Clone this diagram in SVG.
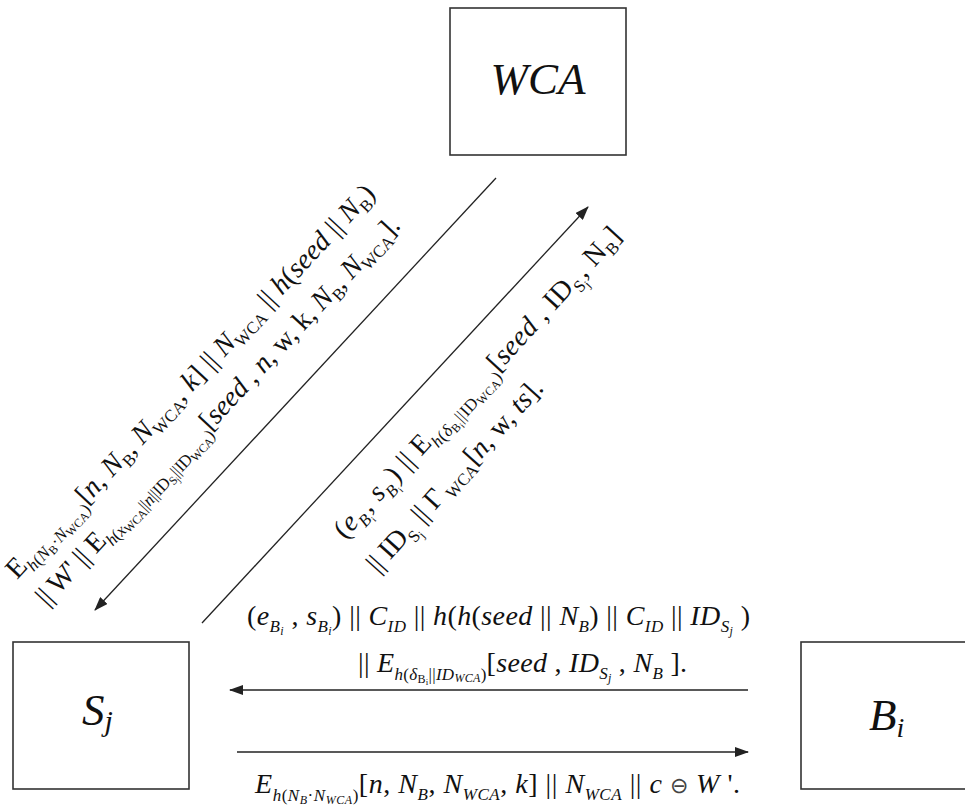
<svg xmlns="http://www.w3.org/2000/svg" width="965" height="811" viewBox="0 0 965 811">
<defs>
<style>
.box{fill:#fff;stroke:#333;stroke-width:1.6}
.conn{stroke:#222;stroke-width:1.3;fill:none}
.t{font-size:28px;fill:#111}
.big{font-size:45px;font-style:italic;fill:#111}
.i{font-style:italic}
.s{font-size:17px}
.ss{font-size:12px}
.sss{font-size:9px}
</style>
<marker id="ah" markerWidth="14" markerHeight="10" refX="13" refY="5" orient="auto" markerUnits="userSpaceOnUse">
<path d="M0,0 L14,5 L0,10 z" fill="#222"/>
</marker>
</defs>
<rect width="965" height="811" fill="#fff"/>

<g id="node-wca">
<rect class="box" x="450" y="8" width="176" height="147"/>
<text class="big" font-family="'Liberation Serif', serif" x="538" y="94" text-anchor="middle">WCA</text>
</g>
<g id="node-sj">
<rect class="box" x="13" y="642" width="176" height="147"/>
<text class="big" font-family="'Liberation Serif', serif" x="82" y="725">S<tspan dy="6" font-size="30">j</tspan></text>
</g>
<g id="node-bi">
<rect class="box" x="801" y="642" width="200" height="147"/>
<text class="big" font-family="'Liberation Serif', serif" x="869" y="730">B<tspan dy="7" font-size="28">i</tspan></text>
</g>

<g id="connectors">
<line class="conn" x1="496" y1="178" x2="95" y2="610" marker-end="url(#ah)"/>
<line class="conn" x1="202" y1="623" x2="588" y2="207" marker-end="url(#ah)"/>
<line class="conn" x1="748" y1="690" x2="230" y2="690" marker-end="url(#ah)"/>
<line class="conn" x1="237" y1="752" x2="748" y2="752" marker-end="url(#ah)"/>
</g>

<g id="labels" font-family="'Liberation Serif', serif">
<text class="t" transform="translate(17,580) rotate(-47)" textLength="527" lengthAdjust="spacing">E<tspan class="s i" dy="7">h</tspan><tspan class="s">(</tspan><tspan class="s i">N</tspan><tspan class="ss" dy="3">B</tspan><tspan class="s" dy="-3">·</tspan><tspan class="s i">N</tspan><tspan class="ss" dy="3">WCA</tspan><tspan class="s" dy="-3">)</tspan><tspan dy="-7">[</tspan><tspan class="i">n</tspan><tspan>, </tspan><tspan class="i">N</tspan><tspan class="s" dy="6">B</tspan><tspan dy="-6">, </tspan><tspan class="i">N</tspan><tspan class="s" dy="6">WCA</tspan><tspan dy="-6">, </tspan><tspan class="i">k</tspan><tspan>] || </tspan><tspan class="i">N</tspan><tspan class="s" dy="6">WCA</tspan><tspan dy="-6"> || </tspan><tspan class="i">h</tspan><tspan>(</tspan><tspan class="i">seed</tspan><tspan> || </tspan><tspan class="i">N</tspan><tspan class="s" dy="6">B</tspan><tspan dy="-6">)</tspan></text>

<text class="t" transform="translate(47,607) rotate(-47)" textLength="520" lengthAdjust="spacing">|| W' || E<tspan class="s i" dy="7">h</tspan><tspan class="s">(</tspan><tspan class="s i">x</tspan><tspan class="ss" dy="3">WCA</tspan><tspan class="s" dy="-3">||</tspan><tspan class="s i">n</tspan><tspan class="s">||ID</tspan><tspan class="ss" dy="3">S</tspan><tspan class="sss" dy="2">j</tspan><tspan class="s" dy="-5">||ID</tspan><tspan class="ss" dy="3">WCA</tspan><tspan class="s" dy="-3">)</tspan><tspan dy="-7">[</tspan><tspan class="i">seed</tspan><tspan> , </tspan><tspan class="i">n</tspan><tspan>, w, k, </tspan><tspan class="i">N</tspan><tspan class="s" dy="6">B</tspan><tspan dy="-6">, </tspan><tspan class="i">N</tspan><tspan class="s" dy="6">WCA</tspan><tspan dy="-6">].</tspan></text>

<text class="t" transform="translate(345,540) rotate(-47.5)" textLength="411" lengthAdjust="spacing">(<tspan class="i">e</tspan><tspan class="s i" dy="7">B</tspan><tspan class="sss" dy="3">i</tspan><tspan dy="-10">, </tspan><tspan class="i">s</tspan><tspan class="s i" dy="7">B</tspan><tspan class="sss" dy="3">i</tspan><tspan dy="-10">) || E</tspan><tspan class="s i" dy="7">h</tspan><tspan class="s">(</tspan><tspan class="s i">δ</tspan><tspan class="ss" dy="3">B</tspan><tspan class="sss" dy="2">i</tspan><tspan class="s" dy="-5">||ID</tspan><tspan class="ss" dy="3">WCA</tspan><tspan class="s" dy="-3">)</tspan><tspan dy="-7">[</tspan><tspan class="i">seed</tspan><tspan> , ID</tspan><tspan class="s" dy="7">S</tspan><tspan class="ss" dy="3">j</tspan><tspan dy="-10">, N</tspan><tspan class="s" dy="6">B</tspan><tspan dy="-6">]</tspan></text>

<text class="t" transform="translate(378,574) rotate(-48)" textLength="249" lengthAdjust="spacing">|| ID<tspan class="s" dy="7">S</tspan><tspan class="ss" dy="3">j</tspan><tspan dy="-10"> || Γ</tspan><tspan class="s" dy="6"> WCA</tspan><tspan dy="-6">[</tspan><tspan class="i">n</tspan><tspan>, w, </tspan><tspan class="i">ts</tspan><tspan>].</tspan></text>

<text class="t" x="247" y="625" textLength="503" lengthAdjust="spacing">(<tspan class="i">e</tspan><tspan class="s i" dy="7">B</tspan><tspan class="ss i" dy="3">i</tspan><tspan dy="-10"> , </tspan><tspan class="i">s</tspan><tspan class="s i" dy="7">B</tspan><tspan class="ss i" dy="3">i</tspan><tspan dy="-10">) || </tspan><tspan class="i">C</tspan><tspan class="s i" dy="7">ID</tspan><tspan dy="-7"> || </tspan><tspan class="i">h</tspan><tspan>(</tspan><tspan class="i">h</tspan><tspan>(</tspan><tspan class="i">seed</tspan><tspan> || </tspan><tspan class="i">N</tspan><tspan class="s i" dy="7">B</tspan><tspan dy="-7">) || </tspan><tspan class="i">C</tspan><tspan class="s i" dy="7">ID</tspan><tspan dy="-7"> || </tspan><tspan class="i">ID</tspan><tspan class="s i" dy="7">S</tspan><tspan class="ss i" dy="3">j</tspan><tspan dy="-10"> )</tspan></text>

<text class="t" x="358" y="672" textLength="329" lengthAdjust="spacing">|| <tspan class="i">E</tspan><tspan class="s i" dy="8">h</tspan><tspan class="s">(</tspan><tspan class="s i">δ</tspan><tspan class="ss" dy="3">B</tspan><tspan class="sss" dy="2">i</tspan><tspan class="s" dy="-5">||</tspan><tspan class="s i">ID</tspan><tspan class="ss i" dy="2">WCA</tspan><tspan class="s" dy="-2">)</tspan><tspan dy="-8">[</tspan><tspan class="i">seed</tspan><tspan> , </tspan><tspan class="i">ID</tspan><tspan class="s i" dy="7">S</tspan><tspan class="ss i" dy="3">j</tspan><tspan dy="-10"> , </tspan><tspan class="i">N</tspan><tspan class="s i" dy="7">B</tspan><tspan dy="-7"> ].</tspan></text>

<text class="t" x="255" y="793" textLength="485" lengthAdjust="spacing"><tspan class="i">E</tspan><tspan class="s i" dy="8">h</tspan><tspan class="s">(</tspan><tspan class="s i">N</tspan><tspan class="ss i" dy="3">B</tspan><tspan class="s" dy="-3">·</tspan><tspan class="s i">N</tspan><tspan class="ss i" dy="3">WCA</tspan><tspan class="s" dy="-3">)</tspan><tspan dy="-8">[</tspan><tspan class="i">n</tspan><tspan>, </tspan><tspan class="i">N</tspan><tspan class="s i" dy="7">B</tspan><tspan dy="-7">, </tspan><tspan class="i">N</tspan><tspan class="s i" dy="7">WCA</tspan><tspan dy="-7">, </tspan><tspan class="i">k</tspan><tspan>] || </tspan><tspan class="i">N</tspan><tspan class="s i" dy="7">WCA</tspan><tspan dy="-7"> || </tspan><tspan class="i">c</tspan><tspan> </tspan><tspan font-size="22" fill="#444">⊖</tspan><tspan> </tspan><tspan class="i">W</tspan><tspan> '.</tspan></text>
</g>
</svg>
